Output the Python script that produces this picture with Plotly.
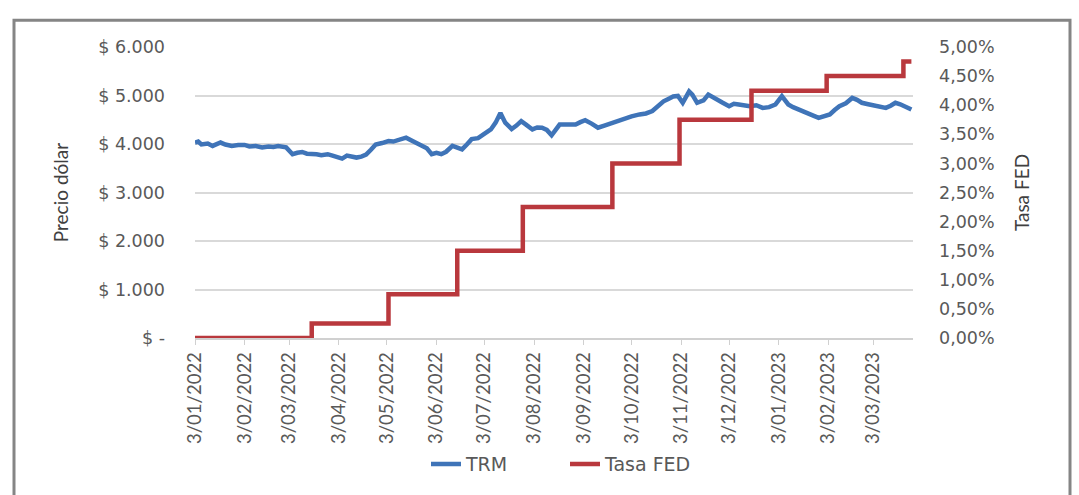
import plotly.graph_objects as go

# TRM (COP per USD)
trm_dates = [
    "2022-01-03", "2022-01-05", "2022-01-07", "2022-01-11", "2022-01-14", "2022-01-17",
    "2022-01-19", "2022-01-22", "2022-01-26", "2022-01-30", "2022-02-03", "2022-02-06",
    "2022-02-10", "2022-02-14", "2022-02-18", "2022-02-21", "2022-02-24", "2022-03-01",
    "2022-03-05", "2022-03-08", "2022-03-11", "2022-03-14", "2022-03-17", "2022-03-20",
    "2022-03-23", "2022-03-27", "2022-03-30", "2022-04-02", "2022-04-05", "2022-04-08",
    "2022-04-11", "2022-04-14", "2022-04-17", "2022-04-20", "2022-04-23", "2022-04-26",
    "2022-04-30", "2022-05-04", "2022-05-07", "2022-05-10", "2022-05-15", "2022-05-19",
    "2022-05-25", "2022-05-28", "2022-05-31", "2022-06-03", "2022-06-06", "2022-06-09",
    "2022-06-13", "2022-06-16", "2022-06-19", "2022-06-22", "2022-06-25", "2022-06-29",
    "2022-07-04", "2022-07-07", "2022-07-10", "2022-07-13", "2022-07-16", "2022-07-20",
    "2022-07-23", "2022-07-26", "2022-07-29", "2022-08-02", "2022-08-05", "2022-08-08",
    "2022-08-11", "2022-08-14", "2022-08-19", "2022-08-24", "2022-08-29", "2022-09-01",
    "2022-09-04", "2022-09-08", "2022-09-12", "2022-09-16", "2022-09-21", "2022-09-25",
    "2022-09-29", "2022-10-03", "2022-10-08", "2022-10-12", "2022-10-16", "2022-10-19",
    "2022-10-23", "2022-10-26", "2022-10-29", "2022-11-01", "2022-11-04", "2022-11-08",
    "2022-11-10", "2022-11-13", "2022-11-17", "2022-11-20", "2022-11-25", "2022-11-29",
    "2022-12-03", "2022-12-06", "2022-12-09", "2022-12-12", "2022-12-16", "2022-12-20",
    "2022-12-24", "2022-12-28", "2023-01-01", "2023-01-05", "2023-01-09", "2023-01-12",
    "2023-01-16", "2023-01-19", "2023-01-22", "2023-01-25", "2023-01-28", "2023-02-01",
    "2023-02-04", "2023-02-07", "2023-02-10", "2023-02-14", "2023-02-18", "2023-02-21",
    "2023-02-24", "2023-02-28", "2023-03-05", "2023-03-08", "2023-03-11", "2023-03-14",
    "2023-03-17", "2023-03-20", "2023-03-23", "2023-03-27",
]
trm_values = [
    4030, 4050, 3990, 4010, 3960, 3990,
    4030, 3990, 3960, 3980, 3980, 3950,
    3960, 3930, 3950, 3940, 3960, 3930,
    3790, 3820, 3835, 3800, 3800, 3790,
    3770, 3790, 3760, 3740, 3700, 3760,
    3750, 3720, 3740, 3780, 3880, 3990,
    4020, 4060, 4050, 4080, 4130, 4060,
    3960, 3910, 3790, 3820, 3790, 3840,
    3960, 3930, 3890, 3990, 4100, 4120,
    4230, 4300, 4440, 4640, 4440, 4310,
    4380, 4470, 4400, 4300, 4340, 4335,
    4290, 4180, 4400, 4410, 4400, 4450,
    4490, 4420, 4335, 4380, 4440, 4480,
    4540, 4570, 4610, 4630, 4680, 4760,
    4880, 4930, 4980, 4990, 4850, 5085,
    5020, 4850, 4900, 5020, 4915, 4850,
    4780, 4830, 4815, 4790, 4780, 4800,
    4745, 4760, 4815, 4985, 4815, 4760,
    4710, 4680, 4640, 4580, 4540, 4570,
    4610, 4700, 4780, 4840, 4950, 4910,
    4850, 4820, 4780, 4760, 4745, 4790,
    4850, 4820, 4780, 4710,
]

# Fed funds rate (lower bound) step changes
fed_dates = ["2022-01-03", "2022-03-17", "2022-05-04", "2022-06-16", "2022-07-27",
             "2022-09-21", "2022-11-02", "2022-12-17", "2023-02-02", "2023-03-22", "2023-03-27"]
fed_values = [0.0, 0.0025, 0.0075, 0.015, 0.0225, 0.03, 0.0375, 0.0425, 0.045, 0.0475, 0.0475]

x_tick_vals = ["2022-01-03", "2022-02-03", "2022-03-03", "2022-04-03", "2022-05-03",
               "2022-06-03", "2022-07-03", "2022-08-03", "2022-09-03", "2022-10-03",
               "2022-11-03", "2022-12-03", "2023-01-03", "2023-02-03", "2023-03-03"]
x_tick_text = ["3/01/2022", "3/02/2022", "3/03/2022", "3/04/2022", "3/05/2022",
               "3/06/2022", "3/07/2022", "3/08/2022", "3/09/2022", "3/10/2022",
               "3/11/2022", "3/12/2022", "3/01/2023", "3/02/2023", "3/03/2023"]
y1_tick_vals = [0, 1000, 2000, 3000, 4000, 5000, 6000]
y1_tick_text = ["$ -", "$ 1.000", "$ 2.000", "$ 3.000", "$ 4.000", "$ 5.000", "$ 6.000"]
y2_tick_vals = [0, 0.005, 0.01, 0.015, 0.02, 0.025, 0.03, 0.035, 0.04, 0.045, 0.05]
y2_tick_text = ["0,00%", "0,50%", "1,00%", "1,50%", "2,00%", "2,50%",
                "3,00%", "3,50%", "4,00%", "4,50%", "5,00%"]

W, H = 1079, 495
L, R, T, B = 195, 913, 47, 340

fig = go.Figure()
fig.add_trace(go.Scatter(x=trm_dates, y=trm_values, name="TRM", mode="lines",
                         line=dict(color="#3f74b8", width=4.5), yaxis="y"))
fig.add_trace(go.Scatter(x=fed_dates, y=fed_values, name="Tasa FED", mode="lines",
                         line=dict(color="#b9383d", width=4.5, shape="hv"), yaxis="y2"))

tick_font = dict(family="DejaVu Sans", size=17.5, color="#595959")
xtick_font = dict(family="Lato", size=18.5, color="#595959")
title_font = dict(family="Lato", size=19, color="#404040")


def px_x(p):
    return (p - L) / (R - L)


def px_y(p):
    return (B - p) / (B - T)


fig.update_layout(
    width=W, height=H,
    margin=dict(l=L, r=W - R, t=T, b=H - B),
    paper_bgcolor="white", plot_bgcolor="white",
    font=tick_font,
    showlegend=True,
    legend=dict(orientation="h", x=px_x(426), y=px_y(467), xanchor="left", yanchor="middle",
                font=dict(family="DejaVu Sans", size=19, color="#595959"),
                entrywidth=94, entrywidthmode="pixels"),
    xaxis=dict(range=["2022-01-03", "2023-03-28"], tickvals=x_tick_vals, ticktext=x_tick_text,
               tickangle=-90, showgrid=False, showline=True, linecolor="#d0d0d0", linewidth=1.5,
               ticks="outside", ticklen=5, tickcolor="#d0d0d0", tickfont=xtick_font,
               zeroline=False),
    yaxis=dict(range=[0, 6000], tickvals=y1_tick_vals, ticktext=y1_tick_text,
               showgrid=True, gridcolor="#d9d9d9", gridwidth=1.5, zeroline=False,
               tickfont=tick_font, ticklabelstandoff=29,
               title=dict(text="Precio dólar", font=title_font, standoff=24)),
    yaxis2=dict(range=[0, 0.05], tickvals=y2_tick_vals, ticktext=y2_tick_text,
                overlaying="y", side="right", showgrid=False, zeroline=False,
                tickfont=tick_font, ticklabelstandoff=25,
                title=dict(text="Tasa FED", font=title_font, standoff=22)),
    shapes=[dict(type="rect", xref="paper", yref="paper",
                 x0=px_x(14), x1=px_x(1070), y0=px_y(520), y1=px_y(20),
                 line=dict(color="#858585", width=3), fillcolor="rgba(0,0,0,0)", layer="below")],
)

fig.write_html("out.html", config={"displayModeBar": False},
               post_script="document.body.style.margin='0';document.body.style.overflow='hidden';")
